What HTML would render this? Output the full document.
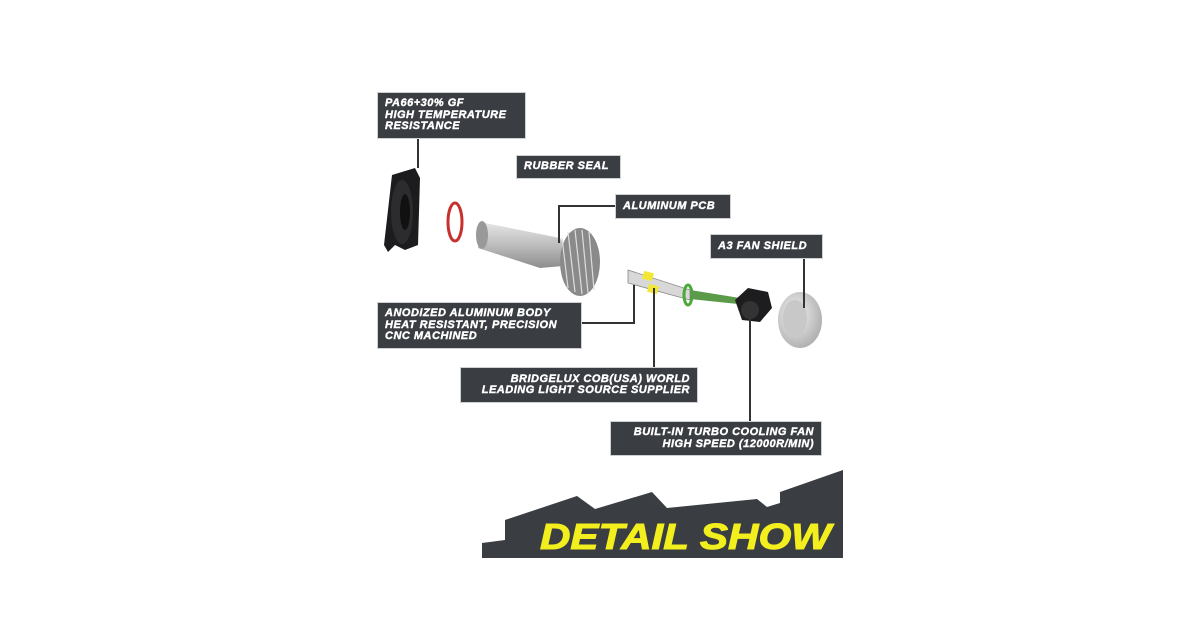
<!DOCTYPE html>
<html><head><style>
body{margin:0;width:1200px;height:630px;background:#fff;position:relative;overflow:hidden;font-family:"Liberation Sans",sans-serif}
.b{position:absolute;background:#3a3d42;color:#fff;font-weight:bold;font-style:italic;font-size:11px;line-height:11.5px;letter-spacing:0.5px;box-sizing:border-box;padding:0 7px;display:flex;flex-direction:column;justify-content:center;box-shadow:0 0 0 1px #cfd0d2;-webkit-text-stroke:0.4px #fff;white-space:nowrap}
.r{text-align:right}
svg{position:absolute;left:0;top:0}
</style></head><body>
<svg width="1200" height="630">
<defs>
<linearGradient id="s" x1="0" y1="0" x2="0" y2="1"><stop offset="0" stop-color="#e6e6e6"/><stop offset=".5" stop-color="#bdbdbd"/><stop offset="1" stop-color="#8d8d8d"/></linearGradient>
<radialGradient id="sh" cx=".4" cy=".4" r=".7"><stop offset="0" stop-color="#f4f4f4"/><stop offset="1" stop-color="#a8a8a8"/></radialGradient>
</defs>
<path d="M392 175 L415 168 L420 178 L418 245 L405 250 L395 245 L388 252 L384 245 Z" fill="#1c1c1e"/>
<ellipse cx="402" cy="212" rx="11" ry="32" fill="#2c2c2e"/>
<ellipse cx="405" cy="212" rx="5" ry="18" fill="#111"/>
<ellipse cx="455" cy="222" rx="7" ry="19" fill="none" stroke="#c8302e" stroke-width="3"/>
<path d="M480 222 L560 238 L575 265 L540 268 L478 248 Z" fill="url(#s)"/>
<ellipse cx="482" cy="235" rx="6" ry="14" fill="#999"/>
<ellipse cx="580" cy="262" rx="20" ry="34" fill="#8a8a8a"/>
<g stroke="#ddd" stroke-width="1.2">
<line x1="568" y1="232" x2="575" y2="292"/><line x1="575" y1="230" x2="582" y2="294"/><line x1="582" y1="230" x2="588" y2="293"/><line x1="589" y1="232" x2="594" y2="290"/><line x1="562" y1="238" x2="568" y2="288"/>
</g>
<path d="M628 270 L690 290 L690 300 L628 283 Z" fill="#d8d8d8" stroke="#888" stroke-width=".8"/>
<rect x="643" y="272" width="10" height="8" fill="#f2e832" transform="rotate(15 648 276)"/>
<rect x="648" y="285" width="10" height="8" fill="#f2e832" transform="rotate(15 653 289)"/>
<ellipse cx="688" cy="295" rx="4" ry="10" fill="none" stroke="#4caa3a" stroke-width="3"/>
<path d="M690 290 L740 298 L738 304 L690 299 Z" fill="#5a9a48"/>
<path d="M735 300 L748 288 L768 292 L772 308 L760 322 L742 320 Z" fill="#1d1d1f"/>
<circle cx="750" cy="310" r="9" fill="#333"/>
<ellipse cx="800" cy="320" rx="22" ry="28" fill="url(#sh)"/>
<ellipse cx="795" cy="318" rx="12" ry="18" fill="#c8c8c8"/>
<g stroke="#333" stroke-width="2" fill="none">
<path d="M418 138 V168"/>
<path d="M616 206 H559 V243"/>
<path d="M804 258 V308"/>
<path d="M581 323 H634 V285"/>
<path d="M654 288 V368"/>
<path d="M750 317 V422"/>
</g>
<path d="M482 558 V543 L505 540 V520 L577 496 L595 509 L652 492 L667 508 L757 499 L767 507 L780 503 V492 L843 470 V558 Z" fill="#3a3d42"/>
<text x="540" y="549" font-family="Liberation Sans" font-weight="bold" font-style="italic" font-size="36" fill="#f3ee1e" stroke="#f3ee1e" stroke-width="1" textLength="291" lengthAdjust="spacingAndGlyphs">DETAIL SHOW</text>
</svg>
<div class="b" style="left:378px;top:93px;width:147px;height:45px">PA66+30% GF<br>HIGH TEMPERATURE<br>RESISTANCE</div>
<div class="b" style="left:517px;top:156px;width:103px;height:22px">RUBBER SEAL</div>
<div class="b" style="left:616px;top:195px;width:114px;height:23px">ALUMINUM PCB</div>
<div class="b" style="left:711px;top:235px;width:111px;height:23px">A3 FAN SHIELD</div>
<div class="b" style="left:378px;top:303px;width:203px;height:45px">ANODIZED ALUMINUM BODY<br>HEAT RESISTANT, PRECISION<br>CNC MACHINED</div>
<div class="b r" style="left:461px;top:368px;width:236px;height:34px">BRIDGELUX COB(USA) WORLD<br>LEADING LIGHT SOURCE SUPPLIER</div>
<div class="b r" style="left:611px;top:422px;width:210px;height:33px">BUILT-IN TURBO COOLING FAN<br>HIGH SPEED (12000R/MIN)</div>
</body></html>
